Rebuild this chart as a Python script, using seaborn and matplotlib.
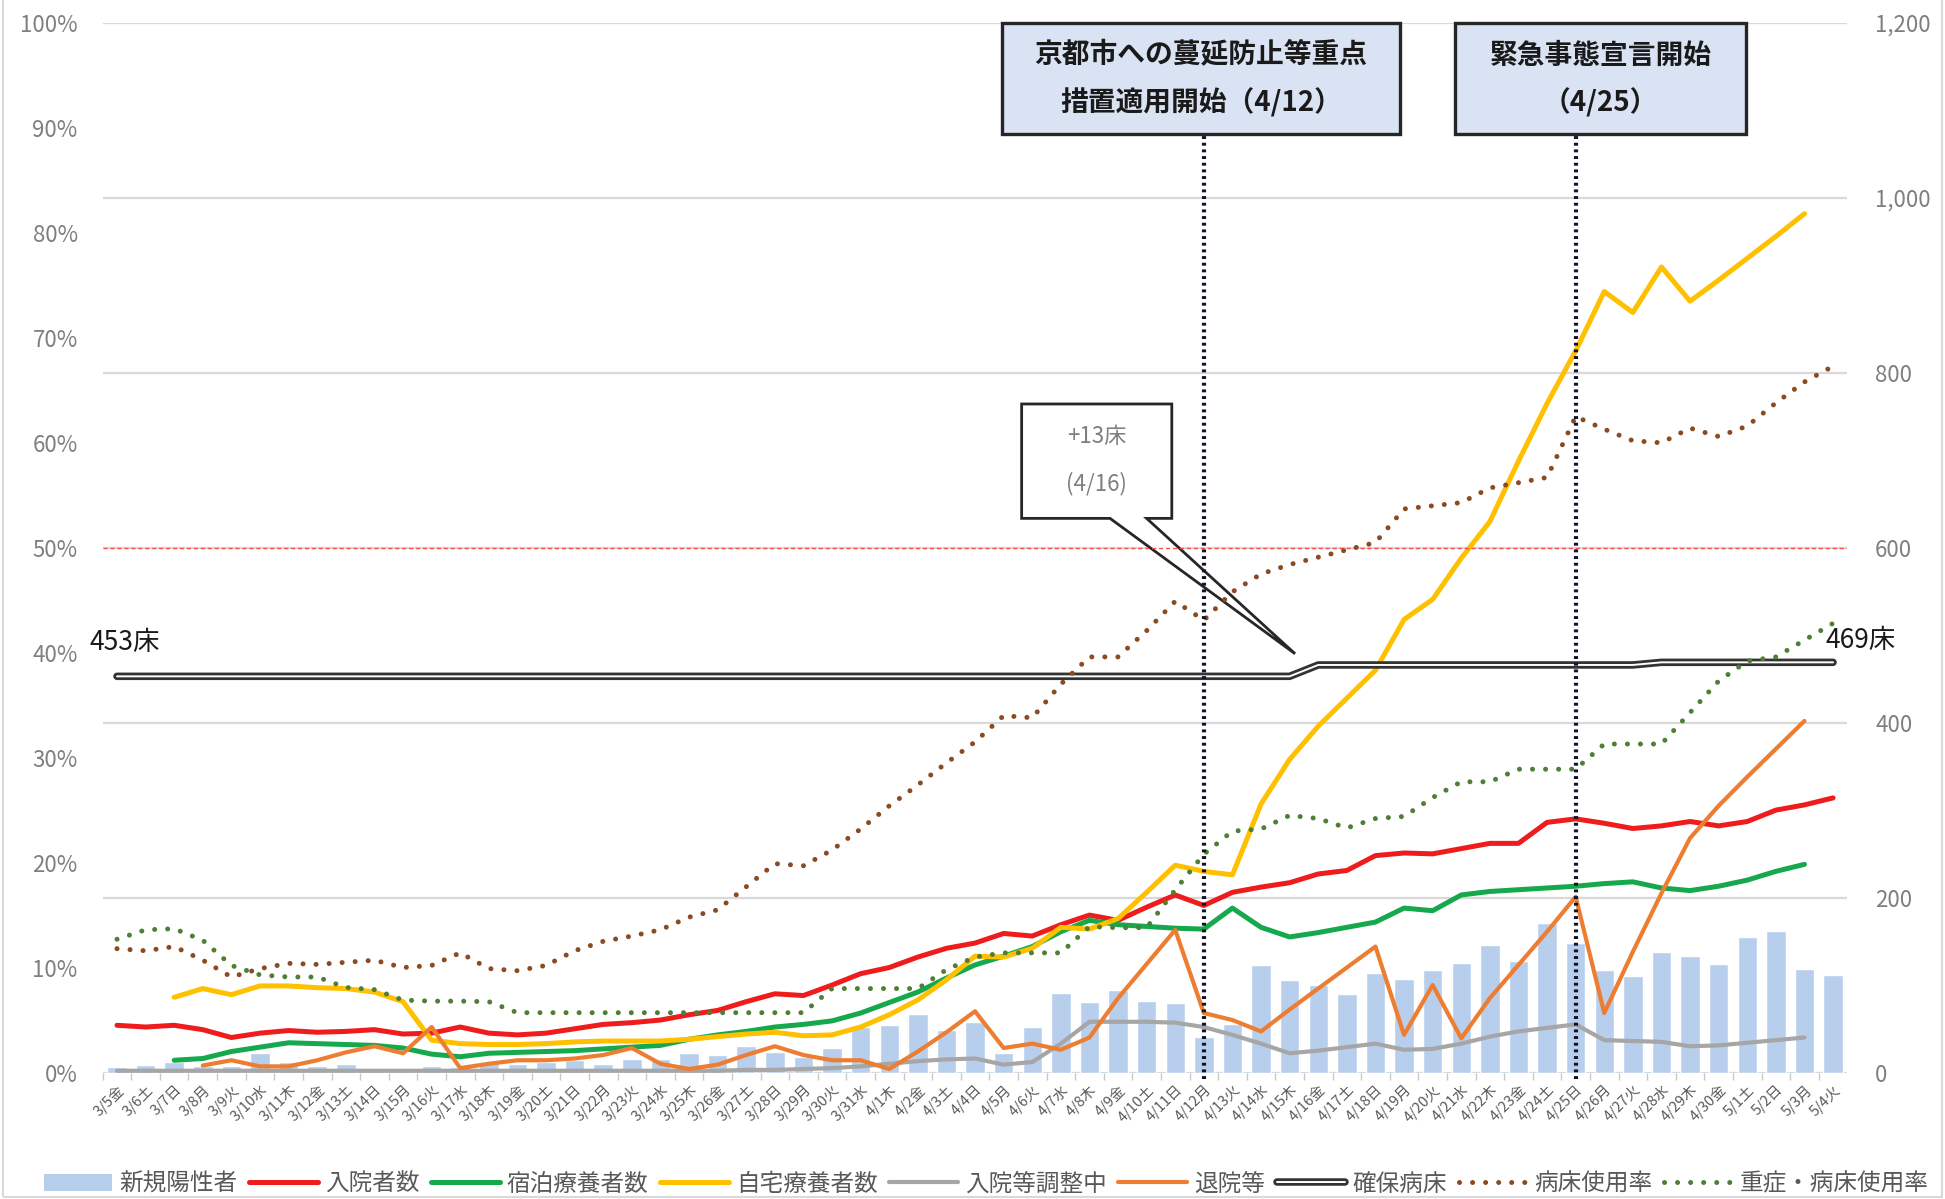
"""
新規陽性者・療養状況・病床使用率の推移（京都府 3/5〜5/4）
"""
import numpy as np
import matplotlib
matplotlib.use("Agg")
import matplotlib.pyplot as plt
import matplotlib.patheffects as pe
from matplotlib.lines import Line2D
from matplotlib.patches import Patch, Rectangle, Polygon
import seaborn as sns

nan = np.nan

# 日付ラベル
dates = ['3/5金', '3/6土', '3/7日', '3/8月', '3/9火', '3/10水', '3/11木', '3/12金', '3/13土', '3/14日',
         '3/15月', '3/16火', '3/17水', '3/18木', '3/19金', '3/20土', '3/21日', '3/22月', '3/23火', '3/24水',
         '3/25木', '3/26金', '3/27土', '3/28日', '3/29月', '3/30火', '3/31水', '4/1木', '4/2金', '4/3土',
         '4/4日', '4/5月', '4/6火', '4/7水', '4/8木', '4/9金', '4/10土', '4/11日', '4/12月', '4/13火',
         '4/14水', '4/15木', '4/16金', '4/17土', '4/18日', '4/19月', '4/20火', '4/21水', '4/22木', '4/23金',
         '4/24土', '4/25日', '4/26月', '4/27火', '4/28水', '4/29木', '4/30金', '5/1土', '5/2日', '5/3月',
         '5/4火']

# 右軸（人）
new_cases = [6, 9, 12, 8, 7, 22, 12, 8, 10, 5, 4, 8, 6, 12, 10, 12, 14, 10, 15, 16,
             22, 20, 30, 24, 18, 28, 52, 54, 67, 49, 58, 22, 52, 91, 81, 94, 82, 80, 41, 55,
             123, 106, 100, 90, 114, 107, 117, 125, 146, 128, 171, 148, 117, 110, 138, 133, 124, 155, 162, 118,
             111]
hospitalized = [54, 52, 54, 49, 40, 45, 48, 46, 47, 49, 44, 45, 52, 45, 43, 45, 50, 55, 57, 60,
                66, 71, 81, 90, 88, 100, 113, 120, 132, 142, 148, 159, 156, 169, 180, 174, 189, 203, 191, 206,
                212, 217, 227, 231, 248, 251, 250, 256, 262, 262, 286, 290, 285, 279, 282, 287, 282, 287, 300, 306,
                314]
lodging = [nan, nan, 14, 16, 24, 29, 34, 33, 32, 31, 28, 21, 18, 22, 23, 24, 25, 27, 29, 31,
           38, 43, 47, 52, 55, 59, 68, 80, 92, 108, 123, 133, 144, 161, 174, 169, 167, 165, 164, 188,
           166, 155, 160, 166, 172, 188, 185, 203, 207, 209, 211, 213, 216, 218, 211, 208, 213, 220, 230, 238,
           nan]
home = [nan, nan, 86, 96, 89, 99, 99, 97, 96, 92, 81, 37, 33, 32, 32, 33, 35, 36, 36, 36,
        38, 41, 44, 46, 42, 43, 52, 66, 83, 106, 133, 132, 142, 166, 164, 176, 206, 237, 230, 226,
        307, 358, 396, 428, 460, 518, 541, 588, 630, 699, 765, 825, 893, 869, 921, 882, 906, 931, 956, 982,
        nan]
waiting = [2, 2, 2, 2, 2, 2, 2, 2, 2, 2, 2, 2, 2, 2, 2, 2, 2, 2, 2, 2,
           2, 2, 3, 3, 4, 5, 7, 10, 13, 15, 16, 9, 12, 33, 58, 58, 58, 57, 52, 43,
           33, 22, 25, 29, 33, 26, 27, 33, 41, 47, 51, 55, 37, 36, 35, 30, 31, 34, 37, 40,
           nan]
discharged = [nan, nan, nan, 8, 14, 7, 7, 14, 23, 30, 22, 52, 5, 10, 14, 14, 16, 20, 28, 10,
              4, 9, 20, 30, 20, 14, 14, 4, 24, 46, 70, 28, 33, 26, 40, 85, 124, 163, 68, 60,
              47, 72, 96, 120, 144, 43, 100, 39, 85, 123, 161, 201, 68, 138, 205, 268, 305, 338, 370, 402,
              nan]
beds = [453, 453, 453, 453, 453, 453, 453, 453, 453, 453, 453, 453, 453, 453, 453, 453, 453, 453, 453, 453,
        453, 453, 453, 453, 453, 453, 453, 453, 453, 453, 453, 453, 453, 453, 453, 453, 453, 453, 453, 453,
        453, 453, 466, 466, 466, 466, 466, 466, 466, 466, 466, 466, 466, 466, 469, 469, 469, 469, 469, 469,
        469]

# 左軸（％）
occupancy = [11.8, 11.6, 12.0, 10.7, 9.1, 9.9, 10.4, 10.3, 10.5, 10.7, 10.0, 10.2, 11.4, 9.9, 9.7, 10.2, 11.6, 12.5, 13.0, 13.6,
             14.8, 15.5, 17.7, 19.9, 19.7, 21.2, 23.2, 25.4, 27.4, 29.5, 31.5, 34.0, 33.8, 37.0, 39.6, 39.6, 42.1, 44.9, 43.1, 45.8,
             47.5, 48.4, 49.1, 49.8, 50.5, 53.7, 54.0, 54.3, 55.7, 56.2, 56.7, 62.5, 61.3, 60.2, 60.0, 61.4, 60.6, 61.6, 63.8, 65.8,
             67.3]
severe = [12.7, 13.6, 13.7, 12.6, 10.2, 9.3, 9.1, 9.1, 8.1, 7.9, 6.9, 6.8, 6.8, 6.75, 5.7, 5.7, 5.7, 5.7, 5.7, 5.7,
          5.7, 5.7, 5.7, 5.7, 5.7, 8.0, 8.0, 8.0, 8.0, 9.8, 11.0, 11.4, 11.4, 11.4, 13.9, 13.8, 13.8, 17.4, 20.8, 23.0,
          23.2, 24.5, 24.2, 23.3, 24.2, 24.4, 26.2, 27.7, 27.7, 28.9, 28.9, 28.9, 31.3, 31.3, 31.3, 34.3, 37.3, 39.2, 39.6, 41.2,
          42.8]

count_ticks = [0, 200, 400, 600, 800, 1000, 1200]
pct_ticks = [0, 10, 20, 30, 40, 50, 60, 70, 80, 90, 100]

# 色
C_BAR = '#b7cfec'
C_RED = '#ee1c1c'
C_GREEN = '#16a84c'
C_YELLOW = '#ffc000'
C_GRAY = '#a6a6a6'
C_ORANGE = '#ed7d31'
C_BROWN = '#8a4b22'
C_DGREEN = '#4f7f35'
TXT = '#7f7f7f'

DOT = (0, (0.01, 2.6))
bed_fx = [pe.Stroke(linewidth=5.4, foreground='#333333'), pe.Normal()]

sns.set_theme(style='white')
plt.rcParams['font.family'] = ['Noto Sans CJK JP', 'DejaVu Sans']

pos = np.arange(len(dates))

fig = plt.figure(figsize=(19.45, 11.99), dpi=100)
ax = fig.add_axes([0.0528, 0.1055, 0.897, 0.8753])

# 棒グラフ（新規陽性者）
sns.barplot(x=pos, y=new_cases, ax=ax, color=C_BAR, saturation=1, width=0.68,
            native_scale=True, zorder=2)

# 折れ線（人数）
line_kw = dict(ax=ax, legend=False, estimator=None, zorder=3)
sns.lineplot(x=pos, y=hospitalized, color=C_RED, linewidth=3.6, **line_kw)
sns.lineplot(x=pos, y=lodging, color=C_GREEN, linewidth=3.6, **line_kw)
sns.lineplot(x=pos, y=home, color=C_YELLOW, linewidth=3.6, **line_kw)
sns.lineplot(x=pos, y=waiting, color=C_GRAY, linewidth=3.0, **line_kw)
sns.lineplot(x=pos, y=discharged, color=C_ORANGE, linewidth=3.0, **line_kw)
sns.lineplot(x=pos, y=beds, color='white', linewidth=1.4, path_effects=bed_fx, **line_kw)

ax.set_xlim(-0.5, len(dates) - 0.5)
ax.set_ylim(0, 1200)
ax.set_xlabel('')
ax.set_ylabel('')

# 左軸（病床使用率）
axp = ax.twinx()

# 右軸（人数）の目盛り: twinx の後で右側へ
ax.yaxis.tick_right()
ax.set_yticks(count_ticks)
ax.set_yticklabels([f'{v:,}' for v in count_ticks])
ax.yaxis.grid(True, color='#d9d9d9', linewidth=1.6)
ax.xaxis.grid(False)
ax.set_axisbelow(True)
ax.set_xticks(pos)
ax.set_xticklabels(dates, rotation=45, ha='right', rotation_mode='anchor')
ax.set_xticks(pos - 0.5, minor=True)
ax.tick_params(axis='x', which='major', length=0, pad=7, labelsize=10.5, labelcolor='#595959')
ax.tick_params(axis='x', which='minor', length=5, width=1, color='#c8c8c8', bottom=True)
ax.tick_params(axis='y', length=0, pad=20, labelsize=16, labelcolor=TXT,
               left=False, labelleft=False, right=False, labelright=True)
for s in ax.spines.values():
    s.set_visible(False)

axp.yaxis.tick_left()
axp.set_ylim(0, 100)
axp.set_yticks(pct_ticks)
axp.set_yticklabels([f'{v}%' for v in pct_ticks])
axp.tick_params(axis='y', length=0, pad=18, labelsize=16, labelcolor=TXT,
                left=False, labelleft=True, right=False, labelright=False)
axp.grid(False)
for s in axp.spines.values():
    s.set_visible(False)

sns.lineplot(x=pos, y=occupancy, ax=axp, color=C_BROWN, linewidth=3.6, linestyle=DOT,
             dash_capstyle='round', legend=False, estimator=None, zorder=3)
sns.lineplot(x=pos, y=severe, ax=axp, color=C_DGREEN, linewidth=3.6, linestyle=DOT,
             dash_capstyle='round', legend=False, estimator=None, zorder=3)
axp.set_xlim(-0.5, len(dates) - 0.5)
axp.set_ylabel('')

# 50% ライン
axp.axhline(50, color='#ff4d4d', linewidth=1.0, linestyle=(0, (3, 2)), zorder=2)

# 縦点線（4/12, 4/25）
for d in ['4/12月', '4/25日']:
    axp.vlines(dates.index(d), -0.6, 89.4, colors='#141428', linewidth=3.0,
               linestyles=(0, (0.7, 0.9)), zorder=4, clip_on=False)

# 上部の吹き出しボックス
boxes = [
    (30.96, 44.85, '京都市への蔓延防止等重点', '措置適用開始（4/12）'),
    (46.77, 56.97, '緊急事態宣言開始', '（4/25）'),
]
for x0, x1, t1, t2 in boxes:
    axp.add_patch(Rectangle((x0, 89.4), x1 - x0, 10.6, facecolor='#dae3f3',
                            edgecolor='#262626', linewidth=2.4, zorder=6, clip_on=False))
    xc = (x0 + x1) / 2
    axp.text(xc, 96.9, t1, ha='center', va='center', fontsize=20, fontweight='bold',
             color='#1a1a1a', zorder=7)
    axp.text(xc, 92.4, t2, ha='center', va='center', fontsize=20, fontweight='bold',
             color='#1a1a1a', zorder=7)

# +13床 吹き出し
callout = Polygon([(31.63, 63.7), (36.88, 63.7), (36.88, 52.8), (36.0, 52.8),
                   (41.19, 39.9), (34.72, 52.8), (31.63, 52.8)], closed=True,
                  facecolor='white', edgecolor='#262626', linewidth=2.0, zorder=1.5)
axp.add_patch(callout)
axp.text(34.25, 60.6, '+13床', ha='center', va='center', fontsize=16, color=TXT, zorder=7)
axp.text(34.25, 56.1, '(4/16)', ha='center', va='center', fontsize=16, color=TXT, zorder=7)

# 確保病床ラベル
axp.text(-0.96, 40.95, '453床', ha='left', va='center', fontsize=19, color='#1a1a1a')
axp.text(59.75, 41.2, '469床', ha='left', va='center', fontsize=19, color='#1a1a1a')

# 凡例
handles = [
    Patch(facecolor=C_BAR, edgecolor='none'),
    Line2D([], [], color=C_RED, lw=3.6),
    Line2D([], [], color=C_GREEN, lw=3.6),
    Line2D([], [], color=C_YELLOW, lw=3.6),
    Line2D([], [], color=C_GRAY, lw=3.0),
    Line2D([], [], color=C_ORANGE, lw=3.0),
    Line2D([], [], color='white', lw=1.4, path_effects=bed_fx),
    Line2D([], [], color=C_BROWN, lw=3.6, linestyle=DOT, dash_capstyle='round'),
    Line2D([], [], color=C_DGREEN, lw=3.6, linestyle=DOT, dash_capstyle='round'),
]
labels = ['新規陽性者', '入院者数', '宿泊療養者数', '自宅療養者数', '入院等調整中',
          '退院等', '確保病床', '病床使用率', '重症・病床使用率']
fig.legend(handles, labels, loc='center', bbox_to_anchor=(0.507, 0.0125), ncol=9,
           frameon=False, fontsize=17, handlelength=2.9, handletextpad=0.3,
           columnspacing=0.5, labelcolor='#595959', borderaxespad=0)

# 外枠
fig.add_artist(Rectangle((0.0015, 0.002), 0.997, 1.2, transform=fig.transFigure,
                         fill=False, edgecolor='#d9d9d9', linewidth=1.5))

fig.savefig('out.png', dpi=100)
